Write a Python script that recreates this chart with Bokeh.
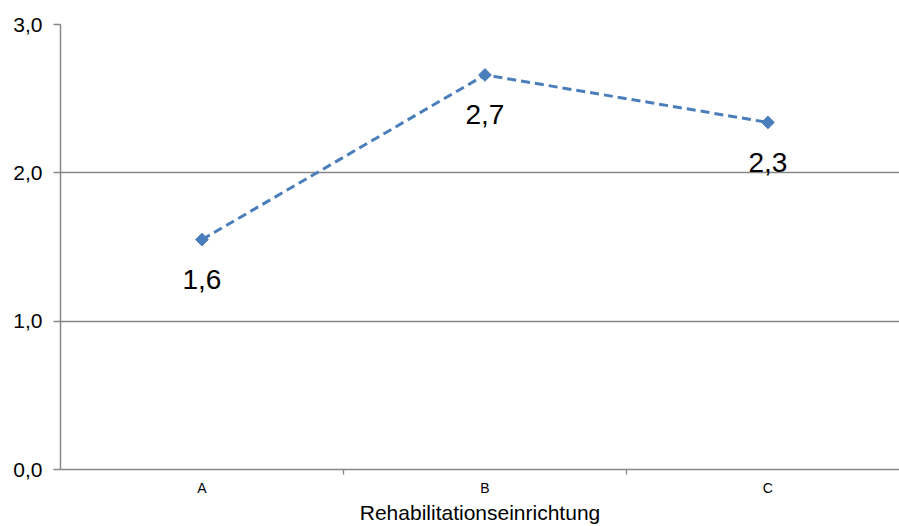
import math
from bokeh.plotting import figure
from bokeh.models import FixedTicker, ColumnDataSource, Range1d
from bokeh.core.properties import value
from bokeh.embed import file_html
from bokeh.resources import INLINE

# Mean score per rehabilitation facility
categories = ["A", "B", "C"]
values = [1.55, 2.66, 2.34]
y_ticks = [0, 1, 2, 3]
x_title = "Rehabilitationseinrichtung"

FONT = "Liberation Sans"
GREY = "#878787"
BLUE = "#4a7ebb"

def de(v):
    return f"{v:.1f}".replace(".", ",")

xs = [i + 0.5 for i in range(len(categories))]
src = ColumnDataSource(dict(x=xs, y=values, lab=[de(v) for v in values]))

p = figure(width=899, height=526, output_backend="svg", toolbar_location=None,
           x_range=Range1d(0, 2.965), y_range=Range1d(0, 3.0),
           min_border_left=60, min_border_right=0, min_border_top=24,
           min_border_bottom=57)
p.outline_line_color = None
p.background_fill_color = "white"
p.border_fill_color = "white"

# horizontal gridlines
p.xgrid.grid_line_color = None
p.ygrid.grid_line_color = GREY
p.ygrid.grid_line_width = 1.3
p.ygrid.ticker = FixedTicker(ticks=y_ticks)

# y axis
p.yaxis.ticker = FixedTicker(ticks=y_ticks)
p.yaxis.major_label_overrides = {t: de(t) for t in y_ticks}
p.yaxis.axis_line_color = GREY
p.yaxis.axis_line_width = 1.5
p.yaxis.major_tick_line_color = GREY
p.yaxis.major_tick_line_width = 1.3
p.yaxis.major_tick_out = 7
p.yaxis.major_tick_in = 0
p.yaxis.minor_tick_line_color = None
p.yaxis.major_label_text_font = FONT
p.yaxis.major_label_text_font_size = "21px"
p.yaxis.major_label_text_color = "black"
p.yaxis.major_label_standoff = 11

# x axis: labels at category centres, ticks at category boundaries
p.xaxis.ticker = FixedTicker(ticks=xs, minor_ticks=[1, 2])
p.xaxis.major_label_overrides = {x: c for x, c in zip(xs, categories)}
p.xaxis.axis_line_color = GREY
p.xaxis.axis_line_width = 1.5
p.xaxis.major_tick_line_color = None
p.xaxis.major_tick_out = 0
p.xaxis.major_tick_in = 0
p.xaxis.minor_tick_line_color = GREY
p.xaxis.minor_tick_line_width = 1.3
p.xaxis.minor_tick_out = 5
p.xaxis.minor_tick_in = 0
p.xaxis.major_label_text_font = FONT
p.xaxis.major_label_text_font_size = "14px"
p.xaxis.major_label_text_color = "black"
p.xaxis.major_label_standoff = 5
p.xaxis.axis_label = x_title
p.xaxis.axis_label_text_font = FONT
p.xaxis.axis_label_text_font_size = "21px"
p.xaxis.axis_label_text_font_style = "normal"
p.xaxis.axis_label_text_color = "black"
p.xaxis.axis_label_standoff = 2

# series
p.line("x", "y", source=src, line_color=BLUE, line_width=3, line_dash="9 5")
p.scatter("x", "y", source=src, marker="square", size=9, angle=math.pi / 4,
          fill_color=BLUE, line_color=BLUE)
p.text("x", "y", text="lab", source=src, text_align="center",
       text_baseline="middle", y_offset=40, text_font=value(FONT),
       text_font_size="28px", text_color="black")

open("out.html", "w").write(file_html(p, INLINE))
